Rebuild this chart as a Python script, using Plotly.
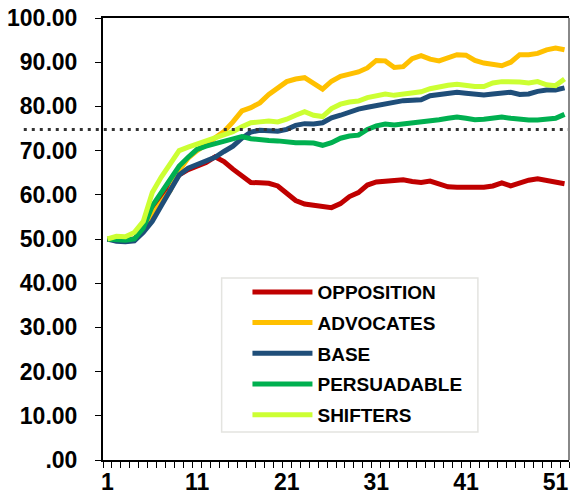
import plotly.graph_objects as go

periods = list(range(1, 53))

opposition = [50, 49.8, 49.7, 50, 52.5, 56, 59, 61.5, 64.5, 65.7, 66.4, 67.3, 68.6, 67.5,
              65.8, 64.2, 62.8, 62.7, 62.6, 62.0, 60.3, 58.7, 57.9, 57.6, 57.4, 57.1, 58.0,
              59.6, 60.5, 62.2, 62.9, 63.1, 63.1, 63.4, 63.0, 62.8, 63.1, 62.4, 61.8, 61.7,
              61.7, 61.6, 61.7, 62.0, 62.7, 62.0, 62.7, 63.3, 63.6, 63.2, 62.9, 62.5]
advocates = [50, 49.8, 49.7, 50, 52, 55.5, 58.5, 61, 65.5, 68.3, 70, 71.5, 72.8, 74.3,
             76.5, 79.0, 79.7, 80.8, 82.7, 84.0, 85.6, 86.2, 86.5, 85.2, 83.9, 85.7, 86.8,
             87.3, 87.8, 88.7, 90.4, 90.3, 88.8, 89.0, 90.8, 91.5, 90.7, 90.3, 91.0, 91.7,
             91.6, 90.4, 89.8, 89.4, 89.2, 90.0, 91.7, 91.7, 92.0, 92.8, 93.2, 92.8]
base = [50, 49.5, 49.4, 49.6, 51.5, 54, 57.5, 61, 64.5, 66, 66.8, 67.5, 68.5, 69.8,
        71, 72.8, 74.2, 74.6, 74.6, 74.4, 74.8, 75.7, 76.1, 76.0, 76.3, 77.4, 78.0,
        78.8, 79.4, 79.8, 80.2, 80.5, 80.9, 81.3, 81.4, 81.5, 82.4, 82.7, 82.9, 83.2,
        83.0, 82.7, 82.6, 82.8, 83.0, 83.2, 82.7, 82.8, 83.4, 83.7, 83.7, 84.2]
persuadable = [50, 49.8, 49.7, 50, 52.5, 57.5, 60.5, 63, 66.5, 68.5, 70.3, 71.0, 71.5, 72.1,
               72.6, 73.2, 72.7, 72.4, 72.3, 72.2, 71.9, 71.8, 71.8, 71.7, 71.2, 71.8, 72.8,
               73.3, 73.5, 74.8, 75.6, 76.0, 75.8, 76.0, 76.3, 76.5, 76.7, 77.0, 77.3, 77.6,
               77.3, 77.0, 77.1, 77.4, 77.6, 77.3, 77.0, 76.9, 76.9, 77.0, 77.3, 78.2]
shifters = [50, 50.6, 50.5, 51.5, 54, 60.5, 64, 66.8, 70.0, 70.8, 71.5, 72.2, 72.8, 73.5,
            74.3, 75.4, 76.3, 76.5, 76.7, 76.5, 77.1, 78.0, 78.8, 78.0, 77.7, 79.5, 80.5,
            81.0, 81.2, 82.0, 82.5, 82.8, 82.5, 82.7, 82.9, 83.3, 84.0, 84.5, 84.8, 85.0,
            84.7, 84.5, 84.5, 85.3, 85.6, 85.6, 85.5, 85.3, 85.6, 84.9, 84.7, 86.2]

series_names = ["OPPOSITION", "ADVOCATES", "BASE", "PERSUADABLE", "SHIFTERS"]
series_values = [opposition, advocates, base, persuadable, shifters]
series_colors = ["#C00000", "#FFC000", "#1F4E79", "#00B050", "#CCFF33"]

target = 74.8

x_tick_vals = [1, 11, 21, 31, 41, 51]
x_tick_text = ["1", "11", "21", "31", "41", "51"]
y_tick_vals = [0, 10, 20, 30, 40, 50, 60, 70, 80, 90, 100]
y_tick_text = [".00", "10.00", "20.00", "30.00", "40.00", "50.00", "60.00",
               "70.00", "80.00", "90.00", "100.00"]

FONT = "Liberation Sans, Arial, Helvetica, sans-serif"

fig = go.Figure()
for name, vals, col in zip(series_names, series_values, series_colors):
    fig.add_trace(go.Scatter(
        x=periods, y=vals, name=name, mode="lines",
        line=dict(color=col, width=5), legendgroup=name,
    ))

# legend frame
fig.add_shape(type="rect", xref="paper", yref="paper",
              x0=0.2546, x1=0.8045, y0=0.0633, y1=0.4118, layer="below",
              fillcolor="white", line=dict(color="#e4e4e0", width=1.5))
# dotted reference line (extends into label area like the original)
fig.add_shape(type="line", xref="paper", yref="y", x0=-0.17, x1=1.0,
              y0=target, y1=target, layer="above",
              line=dict(color="#333333", width=3, dash="3px,5px"))
# lighter right border
fig.add_shape(type="line", xref="paper", yref="paper", x0=1, x1=1, y0=0, y1=1,
              line=dict(color="#888888", width=2))

boundaries = [i + 0.5 for i in range(0, 53)]

fig.update_layout(
    width=570, height=502,
    margin=dict(l=103, r=1, t=18, b=42, autoexpand=False),
    paper_bgcolor="white", plot_bgcolor="white",
    font=dict(family=FONT, color="black"),
    showlegend=True,
    legend=dict(
        x=0.31, y=0.423, xanchor="left", yanchor="top",
        bgcolor="rgba(0,0,0,0)", borderwidth=0,
        font=dict(family=FONT, size=19, color="black", weight="bold"),
        itemwidth=60, tracegroupgap=3, traceorder="grouped",
    ),
    xaxis=dict(
        range=[0.5, 52.5], showgrid=False, zeroline=False, automargin=False,
        showline=True, linecolor="black", linewidth=2, mirror=True,
        tickmode="array", tickvals=x_tick_vals, ticktext=x_tick_text,
        ticks="", tickfont=dict(family=FONT, size=23, weight="bold"),
        ticklabeloverflow="allow",
        minor=dict(tickvals=boundaries, ticks="outside", ticklen=6,
                   tickcolor="black", tickwidth=1),
    ),
    yaxis=dict(
        range=[0, 100], showgrid=False, zeroline=False, automargin=False,
        showline=True, linecolor="black", linewidth=2,
        tickmode="array", tickvals=y_tick_vals, ticktext=y_tick_text,
        ticks="outside", ticklen=6, tickcolor="black", tickwidth=1,
        tickfont=dict(family=FONT, size=23, weight="bold"),
        ticklabelstandoff=13, ticklabeloverflow="allow",
    ),
)

# remove the browser's default 8px body margin so the figure fills the window
fig.write_html("out.html",
               config={"displayModeBar": False},
               post_script="document.body.style.margin='0';"
                           "document.body.style.overflow='hidden';")
